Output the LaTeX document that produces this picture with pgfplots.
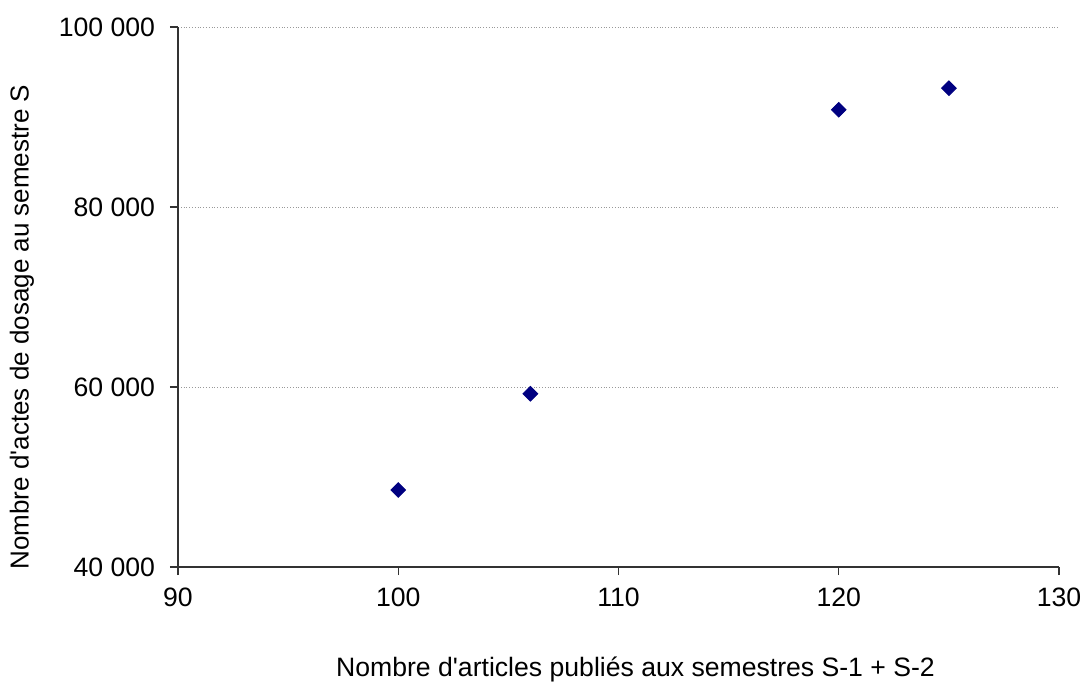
\documentclass[border=0pt]{standalone}
\usepackage{pgfplots}
\pgfplotsset{compat=1.18}
\usepackage{fontspec}
\setmainfont{Liberation Sans}
\definecolor{navyc}{RGB}{0,0,128}
\begin{document}
\begin{tikzpicture}[x=1pt,y=1pt]
\useasboundingbox (-89,-57.5) rectangle (454,283.5);
\begin{axis}[
  at={(0,0)}, anchor=south west,
  scale only axis, width=440.5pt, height=270pt,
  xmin=90, xmax=130, ymin=40000, ymax=100000,
  xtick={90,100,110,120,130},
  xticklabels={90,100,110,120,130},
  ytick={40000,60000,80000,100000},
  yticklabels={40 000,60 000,80 000,100 000},
  scaled y ticks=false,
  axis x line*=bottom, axis y line*=left,
  axis line style={black!80, line width=0.6pt},
  tick align=outside, major tick length=4pt,
  tick style={black!80, line width=0.6pt},
  ymajorgrids, grid style={gray!80, densely dotted, line width=0.5pt},
  ticklabel style={font=\fontsize{13.3}{15}\selectfont},
  yticklabel style={xshift=-4pt},
  xticklabel style={yshift=-3pt},
  xlabel={Nombre d\textquotesingle articles publiés aux semestres S-1 + S-2},
  ylabel={Nombre d\textquotesingle actes de dosage au semestre S},
  xlabel style={font=\fontsize{13.3}{15}\selectfont, at={(axis description cs:0.5,0)}, anchor=center, yshift=-51pt, xshift=8.5pt},
  ylabel style={font=\fontsize{13}{15}\selectfont, at={(axis description cs:0,0.5)}, anchor=center, yshift=78pt, xshift=-15pt},
]
\addplot[only marks, mark=square*, mark size=2.6pt, mark options={rotate=45, fill=navyc, draw=navyc}]
  coordinates {(100,48550) (106,59250) (120,90800) (125,93200)};
\end{axis}
\end{tikzpicture}
\end{document}
